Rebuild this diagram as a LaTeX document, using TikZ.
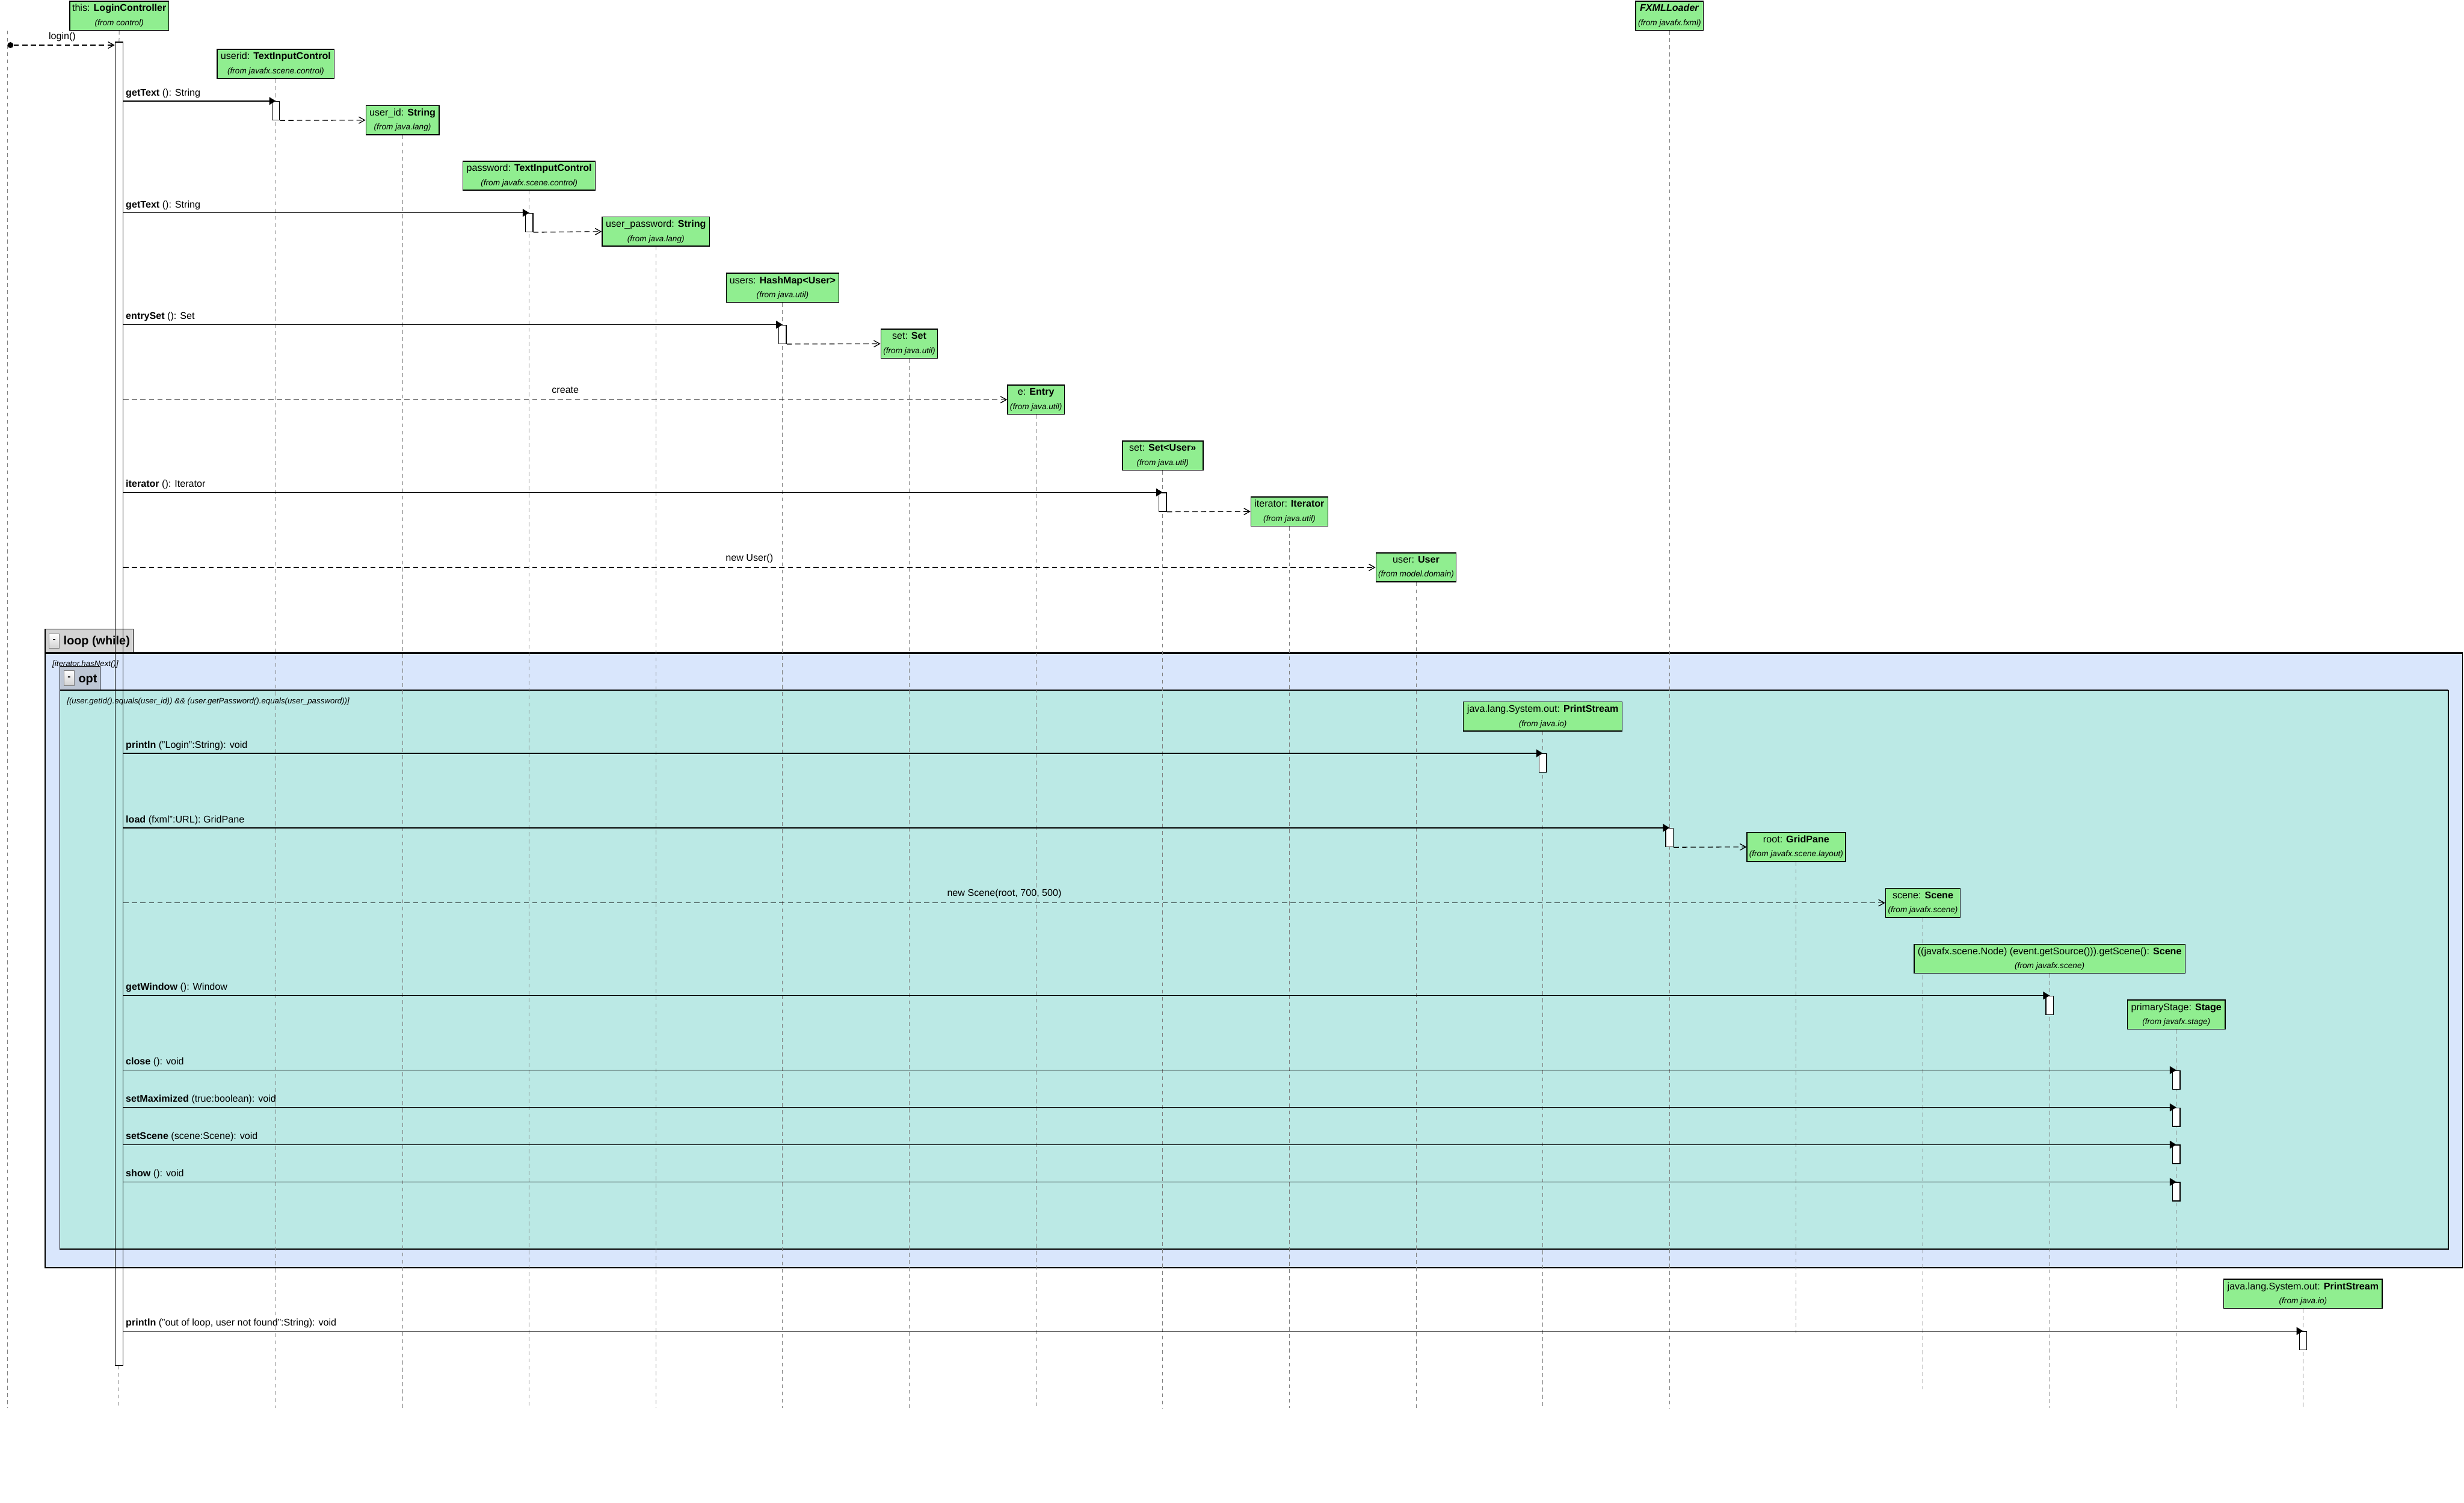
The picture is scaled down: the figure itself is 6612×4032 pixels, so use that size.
\documentclass[tikz,border=0pt]{standalone}
\usepackage{fontspec}
\setmainfont{Liberation Sans}
\usetikzlibrary{arrows.meta}
\definecolor{objgreen}{HTML}{90EE90}
\definecolor{loopfill}{HTML}{D9E6FC}
\definecolor{optfill}{HTML}{BBE9E5}
\definecolor{looptabfill}{HTML}{D3D3D3}
\definecolor{opttabfill}{HTML}{BDC6D4}
\definecolor{lifegray}{HTML}{808080}
\pgfdeclarelayer{bg}\pgfdeclarelayer{mid}\pgfsetlayers{bg,mid,main}
\newcommand\objfont{\fontsize{7.4}{10.8}\selectfont}
\newcommand\fromfont{\fontsize{6.26}{7.5}\selectfont\itshape}
\newcommand\guardfont{\fontsize{6.1}{7.3}\selectfont\itshape}
\newcommand\fragfont{\fontsize{9.1}{11}\selectfont\bfseries}
\begin{document}
\begin{tikzpicture}[x=0.01cm, y=-0.01cm,
 obj/.style={draw, line width=0.7pt, fill=objgreen, minimum height=0.78cm, inner sep=0pt, align=center, font=\objfont, anchor=north},
 lifeline/.style={draw=lifegray, line width=0.45pt, dash pattern=on 3pt off 2.5pt},
 act/.style={draw, fill=white, line width=0.6pt, minimum width=0.2cm, minimum height=0.5cm, inner sep=0pt, anchor=north},
 call/.style={draw, line width=0.6pt, -{Triangle[length=5pt,width=6pt]}},
 ret/.style={draw, line width=0.6pt, dash pattern=on 4pt off 2.5pt, -{Straight Barb[length=4.5pt,width=5pt,line width=0.6pt]}},
 msg/.style={font=\objfont, anchor=base west, inner sep=0pt},
 cmsg/.style={font=\objfont, anchor=base, inner sep=0pt},
 dot/.style={circle, fill=black, minimum size=0.16cm, inner sep=0pt},
 btn/.style={draw=gray, line width=0.4pt, top color=white, bottom color=gray!35, minimum width=0.27cm, minimum height=0.39cm, inner sep=0pt, font=\fontsize{7}{8}\selectfont\bfseries},
 fraglabel/.style={font=\fragfont, anchor=base west, inner sep=0pt},
 guard/.style={font=\guardfont, anchor=base west, inner sep=0pt}
]
\useasboundingbox (0,0) rectangle (6612,4032);

% ---------- background and fragments ----------
\begin{pgfonlayer}{bg}
\fill[white] (0,0) rectangle (6612,4032);
\draw[line width=0.6pt, fill=loopfill] (121,1752) rectangle (6608,3401);
\draw[line width=1.1pt] (121,1752) -- (6608,1752);
\draw[line width=0.6pt, fill=looptabfill] (121,1688) rectangle (358,1752);
\draw[line width=1.1pt] (121,1752) -- (358,1752);
\draw[line width=0.6pt, fill=optfill] (161,1852) rectangle (6570,3351);
\draw[line width=1.1pt] (161,1852) -- (6570,1852);
\draw[line width=0.6pt, fill=opttabfill] (161,1788) rectangle (269,1852);
\draw[line width=1.1pt] (161,1852) -- (269,1852);
\end{pgfonlayer}
\node[btn] (loopbtn) at (145.5,1719.5) {-};
\node[fraglabel] (looplbl) at (170,1730) {loop (while)};
\node[btn] (optbtn) at (185.5,1819) {-};
\node[fraglabel] (optlbl) at (210,1831) {opt};
\node[guard] (loopguard) at (140,1788) {[iterator.hasNext()]};
\node[guard] (optguard) at (179,1888) {[(user.getId().equals(user\_id)) \&\& (user.getPassword().equals(user\_password))]};

% ---------- objects ----------
\node[obj, minimum width=2.65cm] (lc) at (320,2) {this: \textbf{LoginController}\\{\fromfont(from control)}};
\node[obj, minimum width=1.82cm] (fxml) at (4480,2) {\textbf{\textit{FXMLLoader}}\\{\fromfont(from javafx.fxml)}};
\node[obj, minimum width=3.14cm] (uid) at (740,131) {userid: \textbf{TextInputControl}\\{\fromfont(from javafx.scene.control)}};
\node[obj, minimum width=1.96cm] (uidS) at (1080,282) {user\_id: \textbf{String}\\{\fromfont(from java.lang)}};
\node[obj, minimum width=3.55cm] (pwd) at (1420,431) {password: \textbf{TextInputControl}\\{\fromfont(from javafx.scene.control)}};
\node[obj, minimum width=2.88cm] (pwdS) at (1760,581) {user\_password: \textbf{String}\\{\fromfont(from java.lang)}};
\node[obj, minimum width=3.02cm] (users) at (2100,732) {users: \textbf{HashMap<User>}\\{\fromfont(from java.util)}};
\node[obj, minimum width=1.52cm] (set1) at (2440,882) {set: \textbf{Set}\\{\fromfont(from java.util)}};
\node[obj, minimum width=1.52cm] (entry) at (2780,1032) {e: \textbf{Entry}\\{\fromfont(from java.util)}};
\node[obj, minimum width=2.16cm] (setU) at (3120,1182) {set: \textbf{Set<User>>}\\{\fromfont(from java.util)}};
\node[obj, minimum width=2.06cm] (iter) at (3460,1332) {iterator: \textbf{Iterator}\\{\fromfont(from java.util)}};
\node[obj, minimum width=2.15cm] (user) at (3800,1482) {user: \textbf{User}\\{\fromfont(from model.domain)}};
\node[obj, minimum width=4.26cm] (ps1) at (4140,1882) {java.lang.System.out: \textbf{PrintStream}\\{\fromfont(from java.io)}};
\node[obj, minimum width=2.64cm] (root) at (4820,2232) {root: \textbf{GridPane}\\{\fromfont(from javafx.scene.layout)}};
\node[obj, minimum width=2.00cm] (scene) at (5160,2382) {scene: \textbf{Scene}\\{\fromfont(from javafx.scene)}};
\node[obj, minimum width=7.27cm] (cast) at (5500,2532) {((javafx.scene.Node) (event.getSource())).getScene(): \textbf{Scene}\\{\fromfont(from javafx.scene)}};
\node[obj, minimum width=2.62cm] (stage) at (5840,2682) {primaryStage: \textbf{Stage}\\{\fromfont(from javafx.stage)}};
\node[obj, minimum width=4.25cm] (ps2) at (6180,3431) {java.lang.System.out: \textbf{PrintStream}\\{\fromfont(from java.io)}};

% ---------- activations ----------
\node[draw, line width=0.6pt, minimum width=0.21cm, minimum height=35.48cm, inner sep=0pt, anchor=north] (lcact) at (319.5,112) {};
\node[act] (a1) at (740,271) {};
\node[act] (a2) at (1420,571) {};
\node[act] (a3) at (2100,871) {};
\node[act] (a4) at (3120,1321) {};
\node[act] (a5) at (4140,2021) {};
\node[act] (a6) at (4480,2221) {};
\node[act] (a7) at (5500,2671) {};
\node[act] (a8) at (5840,2871) {};
\node[act] (a9) at (5840,2971) {};
\node[act] (a10) at (5840,3071) {};
\node[act] (a11) at (5840,3171) {};
\node[act] (a12) at (6180,3571) {};

% ---------- lifelines ----------
\coordinate (bot) at (0,3778);
\coordinate (rootbot) at (0,3576);
\coordinate (scenebot) at (0,3728);
\coordinate (foundtop) at (20,82);
\coordinate (foundbot) at (20,3778);
\begin{pgfonlayer}{mid}
\draw[lifeline] (foundtop) -- (foundbot);
\draw[lifeline] (lc.south) -- (lcact.north);
\draw[lifeline] (lcact.south) -- (lcact.south |- bot);
\foreach \n in {fxml,uid,uidS,pwd,pwdS,users,set1,entry,setU,iter,user,ps1,cast,stage,ps2}
  \draw[lifeline] (\n.south) -- (\n.south |- bot);
\draw[lifeline] (root.south) -- (root.south |- rootbot);
\draw[lifeline] (scene.south) -- (scene.south |- scenebot);
\end{pgfonlayer}

% ---------- messages ----------
\node[dot] (start) at (28,121) {};
\draw[ret] (start) -- (lcact.west |- start);
\node[cmsg] (m0) at (167,106) {login()};

\draw[call] (lcact.east |- a1.north) -- (a1.north);
\node[msg] (m1) at (337,257) {\textbf{getText} (): String};
\draw[ret] (a1.south east) -- (uidS.west);

\draw[call] (lcact.east |- a2.north) -- (a2.north);
\node[msg] (m2) at (337,557) {\textbf{getText} (): String};
\draw[ret] (a2.south east) -- (pwdS.west);

\draw[call] (lcact.east |- a3.north) -- (a3.north);
\node[msg] (m3) at (337,857) {\textbf{entrySet} (): Set};
\draw[ret] (a3.south east) -- (set1.west);

\draw[ret] (lcact.east |- entry.west) -- (entry.west);
\node[cmsg] (m4) at (1517,1055) {create};

\draw[call] (lcact.east |- a4.north) -- (a4.north);
\node[msg] (m5) at (337,1307) {\textbf{iterator} (): Iterator};
\draw[ret] (a4.south east) -- (iter.west);

\draw[ret] (lcact.east |- user.west) -- (user.west);
\node[cmsg] (m6) at (2011,1505) {new User()};

\draw[call] (lcact.east |- a5.north) -- (a5.north);
\node[msg] (m7) at (337,2007) {\textbf{println} ("Login":String): void};

\draw[call] (lcact.east |- a6.north) -- (a6.north);
\node[msg] (m8) at (337,2207) {\textbf{load} (fxml":URL): GridPane};
\draw[ret] (a6.south east) -- (root.west);

\draw[ret] (lcact.east |- scene.west) -- (scene.west);
\node[cmsg] (m9) at (2695,2405) {new Scene(root, 700, 500)};

\draw[call] (lcact.east |- a7.north) -- (a7.north);
\node[msg] (m10) at (337,2657) {\textbf{getWindow} (): Window};

\draw[call] (lcact.east |- a8.north) -- (a8.north);
\node[msg] (m11) at (337,2857) {\textbf{close} (): void};

\draw[call] (lcact.east |- a9.north) -- (a9.north);
\node[msg] (m12) at (337,2957) {\textbf{setMaximized} (true:boolean): void};

\draw[call] (lcact.east |- a10.north) -- (a10.north);
\node[msg] (m13) at (337,3057) {\textbf{setScene} (scene:Scene): void};

\draw[call] (lcact.east |- a11.north) -- (a11.north);
\node[msg] (m14) at (337,3157) {\textbf{show} (): void};

\draw[call] (lcact.east |- a12.north) -- (a12.north);
\node[msg] (m15) at (337,3557) {\textbf{println} ("out of loop, user not found":String): void};
\end{tikzpicture}
\end{document}
